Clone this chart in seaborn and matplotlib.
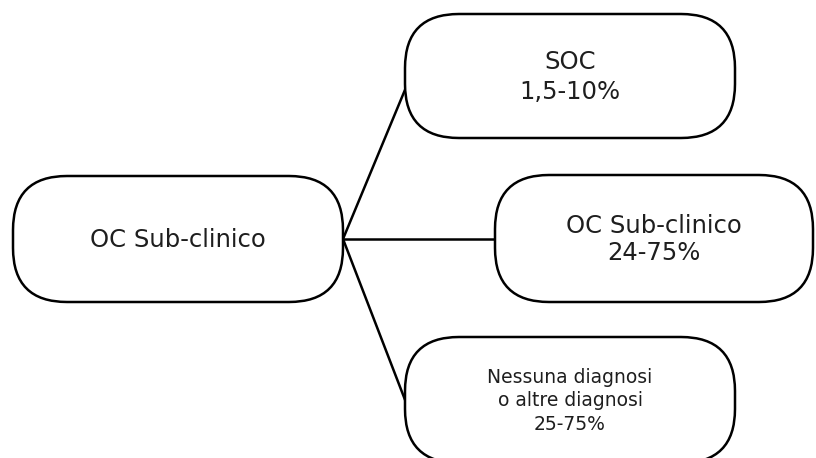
import matplotlib
matplotlib.use("Agg")
import matplotlib.pyplot as plt
from matplotlib.patches import FancyBboxPatch
import pandas as pd
import seaborn as sns

# testi dei nodi
source_label = "OC Sub-clinico"
target_labels = ["SOC\n1,5-10%", "OC Sub-clinico\n24-75%", "Nessuna diagnosi\no altre diagnosi\n25-75%"]

sns.set_theme(style="white")
plt.rcParams['font.family'] = ['DejaVu Sans']

# layout in pixel (x, y, larghezza, altezza)
source_box = (13, 176, 330, 126)
target_boxes = [(405, 14, 330, 124), (495, 175, 318, 127), (405, 337, 330, 126)]
target_fontsize = [17.5, 17.5, 13.5]
target_linespacing = [1.36, 1.18, 1.28]
anchor_y = [85, 239, 405]

fig = plt.figure(figsize=(8.16, 4.58), dpi=100)
ax = fig.add_axes([0, 0, 1, 1])

# connettori
sx = source_box[0] + source_box[2]
sy = source_box[1] + source_box[3] / 2
for box, ay in zip(target_boxes, anchor_y):
    seg = pd.DataFrame({"x": [sx, box[0] + 2], "y": [sy, ay]})
    sns.lineplot(data=seg, x="x", y="y", ax=ax, color="black", linewidth=1.8,
                 sort=False, estimator=None, zorder=1)
ax.set_xlim(0, 816)
ax.set_ylim(458, 0)
ax.axis("off")

def draw_node(box, text, fs, ls):
    x, y, w, h = box
    patch = FancyBboxPatch((x, y), w, h, boxstyle="round,pad=0,rounding_size=54",
                           facecolor="white", edgecolor="black", linewidth=1.8, zorder=2)
    ax.add_patch(patch)
    ax.text(x + w / 2, y + h / 2 + 1, text, ha="center", va="center", fontsize=fs,
            linespacing=ls, color="#1e1e1e", zorder=3)

draw_node(source_box, source_label, 17.5, 1.2)
for box, lab, fs, ls in zip(target_boxes, target_labels, target_fontsize, target_linespacing):
    draw_node(box, lab, fs, ls)

plt.savefig("out.png", dpi=100)
plt.close()
